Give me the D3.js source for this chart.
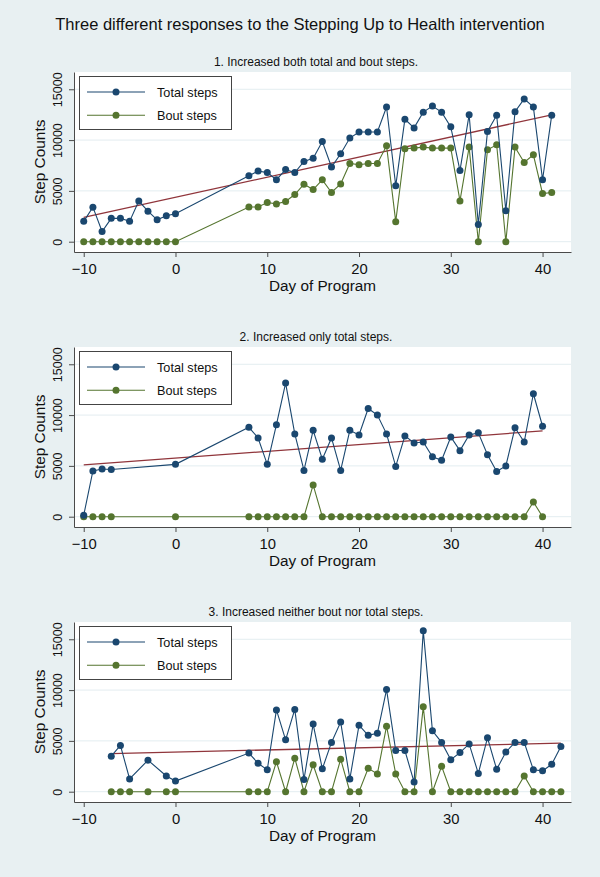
<!DOCTYPE html>
<html>
<head>
<meta charset="utf-8">
<script src="https://cdn.jsdelivr.net/npm/d3@7"></script>
<style>
  body { margin: 0; background: #e8f0f2; }
  svg { display: block; font-family: "Liberation Sans", Arial, sans-serif; }
</style>
</head>
<body>
<div id="chart"></div>
<script>
const title = "Three different responses to the Stepping Up to Health intervention"
const subtitles = [
  "1. Increased both total and bout steps.",
  "2. Increased only total steps.",
  "3. Increased neither bout nor total steps."
]
const seriesNames = ["Total steps", "Bout steps"]
const xTicks = [-10, 0, 10, 20, 30, 40]
const yTicks = [0, 5000, 10000, 15000]

const days1 = [-10, -9, -8, -7, -6, -5, -4, -3, -2, -1, 0,
  8, 9, 10, 11, 12, 13, 14, 15, 16, 17, 18, 19, 20, 21, 22, 23, 24,
  25, 26, 27, 28, 29, 30, 31, 32, 33, 34, 35, 36, 37, 38, 39, 40, 41]
const total1 = [2000, 3400, 1000, 2300, 2300, 2000, 4000, 3000, 2150, 2550, 2750,
  6500, 6950, 6800, 6100, 7100, 6800, 7900, 8200, 9850, 7350, 8650, 10200, 10800, 10800, 10800, 13250, 5500,
  12050, 11200, 12750, 13350, 12750, 11300, 7000, 12500, 1700, 10850, 12450, 3050, 12800, 14050, 13250, 6100, 12450]
const bout1 = [0, 0, 0, 0, 0, 0, 0, 0, 0, 0, 0,
  3420, 3420, 3850, 3720, 3950, 4640, 5660, 5130, 6090, 4840, 5690, 7700, 7570, 7700, 7700, 9440, 1970,
  9150, 9210, 9310, 9210, 9210, 9210, 4010, 9310, 0, 9050, 9540, 0, 9310, 7800, 8550, 4740, 4840]

const days2 = [-10, -9, -8, -7, 0,
  8, 9, 10, 11, 12, 13, 14, 15, 16, 17, 18, 19, 20, 21, 22, 23, 24,
  25, 26, 27, 28, 29, 30, 31, 32, 33, 34, 35, 36, 37, 38, 39, 40]
const total2 = [150, 4500, 4700, 4650, 5150,
  8800, 7750, 5150, 9050, 13150, 8150, 4550, 8500, 5650, 7750, 4550, 8500, 8050, 10650, 10000, 8150, 4950,
  7950, 7250, 7350, 5900, 5550, 7850, 6500, 8050, 8250, 6100, 4450, 5000, 8750, 7350, 12100, 8900]
const bout2 = [0, 0, 0, 0, 0,
  0, 0, 0, 0, 0, 0, 0, 3130, 0, 0, 0, 0, 0, 0, 0, 0, 0,
  0, 0, 0, 0, 0, 0, 0, 0, 0, 0, 0, 0, 0, 0, 1450, 0]

const days3 = [-7, -6, -5, -3, -1, 0,
  8, 9, 10, 11, 12, 13, 14, 15, 16, 17, 18, 19, 20, 21, 22, 23, 24,
  25, 26, 27, 28, 29, 30, 31, 32, 33, 34, 35, 36, 37, 38, 39, 40, 41, 42]
const total3 = [3500, 4550, 1250, 3100, 1550, 1050,
  3800, 2800, 2150, 8050, 5100, 8100, 1200, 6650, 2250, 4850, 6850, 1250, 6550, 5550, 5750, 10050, 4050,
  4050, 950, 15850, 6000, 4850, 3150, 3850, 4700, 1800, 5300, 2200, 3900, 4850, 4850, 2150, 2050, 2700, 4450]
const bout3 = [0, 0, 0, 0, 0, 0,
  0, 0, 0, 2950, 0, 3300, 0, 2650, 0, 0, 3200, 0, 0, 2300, 1750, 6450, 1750,
  0, 0, 8350, 0, 2500, 0, 0, 0, 0, 0, 0, 0, 0, 1550, 0, 0, 0, 0]

const panels = [
  { days: days1, total: total1, bout: bout1 },
  { days: days2, total: total2, bout: bout2 },
  { days: days3, total: total3, bout: bout3 }
]

const width = 600
const height = 877
const plot = { left: 74, right: 571, top: 72, bottom: 252 }
const panelStep = 275
const colors = { total: "#1a476f", bout: "#55752f", fit: "#90353b" }
const font = "Liberation Sans, Arial, sans-serif"

const svg = d3.select("#chart").append("svg")
  .attr("width", width)
  .attr("height", height)

svg.append("rect")
  .attr("width", width)
  .attr("height", height)
  .attr("fill", "#e8f0f2")

svg.append("text")
  .attr("x", 300)
  .attr("y", 30)
  .attr("text-anchor", "middle")
  .attr("font-size", 16.5)
  .attr("fill", "#111")
  .text(title)

const x = d3.scaleLinear().domain([-11.06, 43.1]).range([plot.left, plot.right])
const y = d3.scaleLinear().domain([-1014, 16700]).range([plot.bottom, plot.top])

// least squares line through the total steps, like Stata's lfit
function fit(xs, ys) {
  const mx = d3.mean(xs), my = d3.mean(ys)
  const b = d3.sum(xs, (v, i) => (v - mx) * (ys[i] - my)) / d3.sum(xs, v => (v - mx) ** 2)
  return v => my + b * (v - mx)
}

panels.forEach((p, i) => {
  const g = svg.append("g").attr("transform", `translate(0,${i * panelStep})`)

  g.append("text")
    .attr("x", 316)
    .attr("y", 66)
    .attr("text-anchor", "middle")
    .attr("font-size", 12)
    .attr("fill", "#111")
    .text(subtitles[i])

  g.append("rect")
    .attr("x", plot.left)
    .attr("y", plot.top)
    .attr("width", plot.right - plot.left)
    .attr("height", plot.bottom - plot.top)
    .attr("fill", "white")

  // gridlines
  g.selectAll(".grid")
    .data(yTicks)
    .join("line")
    .attr("x1", plot.left)
    .attr("x2", plot.right)
    .attr("y1", d => y(d))
    .attr("y2", d => y(d))
    .attr("stroke", "#e3edf0")
    .attr("stroke-width", 1)

  // axes
  const yAxis = g.append("g")
    .attr("transform", `translate(${plot.left},0)`)
    .call(d3.axisLeft(y).tickValues(yTicks).tickFormat(d3.format("d")).tickSize(5).tickSizeOuter(0))
  yAxis.selectAll("text")
    .attr("x", null)
    .attr("dy", null)
    .attr("text-anchor", "middle")
    .attr("transform", "translate(-12,0) rotate(-90)")
    .attr("font-size", 12.5)
    .attr("font-family", font)
    .attr("fill", "#111")

  const xAxis = g.append("g")
    .attr("transform", `translate(0,${plot.bottom})`)
    .call(d3.axisBottom(x).tickValues(xTicks).tickFormat(d3.format("d")).tickSize(5).tickSizeOuter(0).tickPadding(6))
  xAxis.selectAll("text")
    .attr("font-size", 14.8)
    .attr("font-family", font)
    .attr("fill", "#111")

  g.selectAll(".domain, .tick line").attr("stroke", "#4a4a4a")

  g.append("text")
    .attr("transform", `translate(45,${(plot.top + plot.bottom) / 2}) rotate(-90)`)
    .attr("text-anchor", "middle")
    .attr("font-size", 15.4)
    .attr("fill", "#111")
    .text("Step Counts")

  g.append("text")
    .attr("x", (plot.left + plot.right) / 2)
    .attr("y", 291)
    .attr("text-anchor", "middle")
    .attr("font-size", 15.3)
    .attr("fill", "#111")
    .text("Day of Program")

  // trend line
  const f = fit(p.days, p.total)
  const ends = d3.extent(p.days)
  g.append("line")
    .attr("x1", x(ends[0]))
    .attr("x2", x(ends[1]))
    .attr("y1", y(f(ends[0])))
    .attr("y2", y(f(ends[1])))
    .attr("stroke", colors.fit)
    .attr("stroke-width", 1.3)

  const series = [
    { key: "bout", values: p.bout },
    { key: "total", values: p.total }
  ]

  series.forEach(s => {
    const pts = p.days.map((d, j) => ({ day: d, value: s.values[j] }))
    g.append("path")
      .datum(pts)
      .attr("fill", "none")
      .attr("stroke", colors[s.key])
      .attr("stroke-width", 1.1)
      .attr("d", d3.line().x(d => x(d.day)).y(d => y(d.value)))

    g.selectAll(`.dot-${s.key}`)
      .data(pts)
      .join("circle")
      .attr("cx", d => x(d.day))
      .attr("cy", d => y(d.value))
      .attr("r", 3.5)
      .attr("fill", colors[s.key])
  })

  // legend
  const lg = g.append("g")
  lg.append("rect")
    .attr("x", 79.5)
    .attr("y", 76.5)
    .attr("width", 152)
    .attr("height", 53)
    .attr("fill", "white")
    .attr("stroke", "#444")
    .attr("stroke-width", 1)

  ;[colors.total, colors.bout].forEach((c, k) => {
    const ly = 92 + k * 23.3
    lg.append("line")
      .attr("x1", 87).attr("x2", 145)
      .attr("y1", ly).attr("y2", ly)
      .attr("stroke", c)
      .attr("stroke-width", 1.1)
    lg.append("circle")
      .attr("cx", 116).attr("cy", ly)
      .attr("r", 3.5)
      .attr("fill", c)
    lg.append("text")
      .attr("x", 157)
      .attr("y", ly + 4.5)
      .attr("font-size", 12.7)
      .attr("fill", "#111")
      .text(seriesNames[k])
  })
})
</script>
</body>
</html>
